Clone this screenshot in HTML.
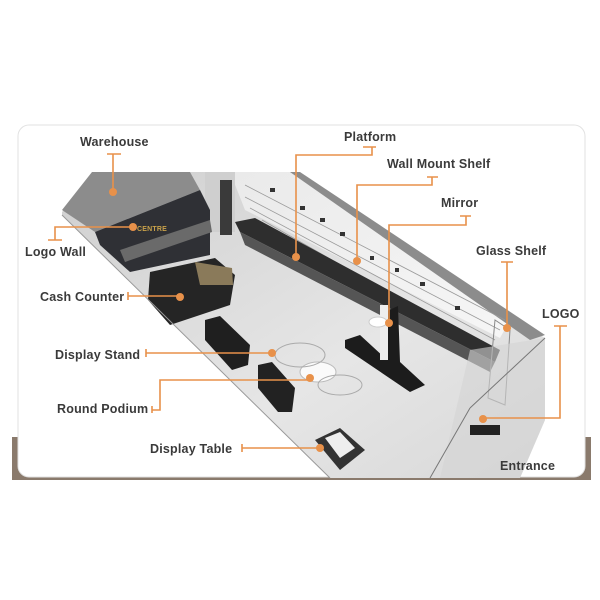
<!DOCTYPE html>
<html><head><meta charset="utf-8"><style>
html,body{margin:0;padding:0;background:#fff;}
svg{display:block}
text{font-family:"Liberation Sans",sans-serif;font-size:12.5px;fill:#3a3a3a;font-weight:bold;letter-spacing:0.2px}
</style></head><body>
<svg width="600" height="600" viewBox="0 0 600 600" xmlns="http://www.w3.org/2000/svg">
<defs>
<linearGradient id="wall" x1="0" y1="0" x2="1" y2="1">
<stop offset="0" stop-color="#eaeaea"/><stop offset="1" stop-color="#f6f6f6"/></linearGradient>
<linearGradient id="floor" x1="0" y1="0" x2="1" y2="1">
<stop offset="0" stop-color="#cfcfcf"/><stop offset="0.6" stop-color="#e6e6e6"/><stop offset="1" stop-color="#d8d8d8"/></linearGradient>
</defs>
<!-- brown band -->
<rect x="12" y="437" width="579" height="43" fill="#8a7a6c"/>
<!-- card -->
<rect x="18" y="125" width="567" height="352" rx="11" fill="#fff" stroke="#e2e2e2" stroke-width="1"/>
<!-- store base -->
<polygon points="62,212 100,172 290,172 545,338 545,420 520,478 330,478 62,215" fill="url(#floor)"/>
<!-- back wall -->
<polygon points="230,172 290,172 510,320 500,338 245,210" fill="url(#wall)"/>
<polygon points="290,172 300,172 545,335 530,340" fill="#8c8c8c"/>
<!-- shelf lines -->
<g stroke="#9a9a9a" stroke-width="0.8">
<line x1="245" y1="185" x2="505" y2="320"/>
<line x1="245" y1="197" x2="500" y2="330"/>
<line x1="250" y1="208" x2="495" y2="340"/>
<line x1="262" y1="220" x2="490" y2="350"/>
</g>
<g fill="#333">
<rect x="270" y="188" width="5" height="4"/><rect x="300" y="206" width="5" height="4"/><rect x="320" y="218" width="5" height="4"/>
<rect x="340" y="232" width="5" height="4"/><rect x="420" y="282" width="5" height="4"/><rect x="455" y="306" width="5" height="4"/>
<rect x="370" y="256" width="4" height="4"/><rect x="395" y="268" width="4" height="4"/>
</g>
<!-- dark counter along wall -->
<polygon points="235,222 255,218 500,350 495,362 240,232" fill="#2e2e2e"/>
<polygon points="240,232 495,362 490,372 245,245" fill="#555"/>
<!-- pillar -->
<rect x="205" y="172" width="30" height="60" fill="#cfcfcf"/>
<rect x="220" y="180" width="12" height="55" fill="#3a3a3a"/>
<!-- warehouse -->
<polygon points="62,210 92,172 190,172 200,190 95,232" fill="#8c8c8c"/>
<!-- logo wall dark block -->
<polygon points="95,232 200,190 210,210 210,255 130,272 100,245" fill="#2f3035"/>
<polygon points="120,250 210,220 212,232 125,262" fill="#6a6a6a"/>
<text x="137" y="231" style="font-size:7px;fill:#c9a24a">CENTRE</text>
<!-- cash counter -->
<polygon points="150,272 215,258 235,275 230,305 170,325 148,300" fill="#252525"/>
<polygon points="195,262 232,268 233,285 200,285" fill="#8a7a5a"/>
<!-- display stand box -->
<polygon points="205,320 220,316 250,345 248,365 232,370 205,340" fill="#1f1f1f"/>
<polygon points="258,365 272,362 295,388 292,412 278,412 258,388" fill="#222"/>
<!-- round podium -->
<ellipse cx="318" cy="372" rx="18" ry="10" fill="#fafafa" stroke="#bbb"/>
<ellipse cx="300" cy="355" rx="25" ry="12" fill="none" stroke="#aaa"/>
<ellipse cx="340" cy="385" rx="22" ry="10" fill="none" stroke="#aaa"/>
<!-- mirror -->
<polygon points="345,340 360,335 385,358 385,312 398,306 400,362 425,385 410,392 345,348" fill="#1c1c1c"/>
<rect x="380" y="305" width="8" height="55" fill="#eee"/>
<ellipse cx="378" cy="322" rx="9" ry="5" fill="#fff" stroke="#ccc"/>
<!-- glass shelf -->
<polygon points="495,320 510,330 505,405 488,398" fill="none" stroke="#888"/>
<!-- entrance glass -->
<polygon points="470,350 545,338 545,420 520,478 440,478" fill="#d4d4d4" opacity="0.6"/>
<line x1="430" y1="478" x2="470" y2="408" stroke="#777"/>
<line x1="470" y1="408" x2="545" y2="338" stroke="#777"/>
<rect x="470" y="425" width="30" height="10" fill="#222"/>
<!-- display table -->
<polygon points="315,440 340,428 365,450 340,470" fill="#333"/>
<polygon points="325,438 340,432 355,448 340,458" fill="#eee"/>
<!-- edges -->
<polyline points="62,215 330,478" fill="none" stroke="#999"/>
<!-- connectors -->
<g stroke="#e8914a" stroke-width="1.6" fill="none">
<path d="M107,154H121M113,154V192"/>
<path d="M363,147H376M372,147V155H296V257"/>
<path d="M427,177H438M432,177V185H357V261"/>
<path d="M460,216H471M466,216V225H389V323"/>
<path d="M501,262H513M507,262V328"/>
<path d="M554,326H567M560,326V418H483"/>
<path d="M48,240H62M55,240V227H133"/>
<path d="M128,292V300M128,296H180"/>
<path d="M146,349V357M146,353H272"/>
<path d="M152,406V413M152,410H160V380H310"/>
<path d="M242,444V452M242,448H320"/>
</g>
<g fill="#e8914a">
<circle cx="113" cy="192" r="4"/><circle cx="296" cy="257" r="4"/><circle cx="357" cy="261" r="4"/>
<circle cx="389" cy="323" r="4"/><circle cx="507" cy="328" r="4"/><circle cx="483" cy="419" r="4"/>
<circle cx="133" cy="227" r="4"/><circle cx="180" cy="297" r="4"/><circle cx="272" cy="353" r="4"/>
<circle cx="310" cy="378" r="4"/><circle cx="320" cy="448" r="4"/>
</g>
<text x="80" y="146">Warehouse</text>
<text x="344" y="141">Platform</text>
<text x="387" y="168">Wall Mount Shelf</text>
<text x="441" y="207">Mirror</text>
<text x="476" y="255">Glass Shelf</text>
<text x="542" y="318">LOGO</text>
<text x="25" y="256">Logo Wall</text>
<text x="40" y="301">Cash Counter</text>
<text x="55" y="359">Display Stand</text>
<text x="57" y="413">Round Podium</text>
<text x="150" y="453">Display Table</text>
<text x="500" y="470">Entrance</text>
</svg>
</body></html>
